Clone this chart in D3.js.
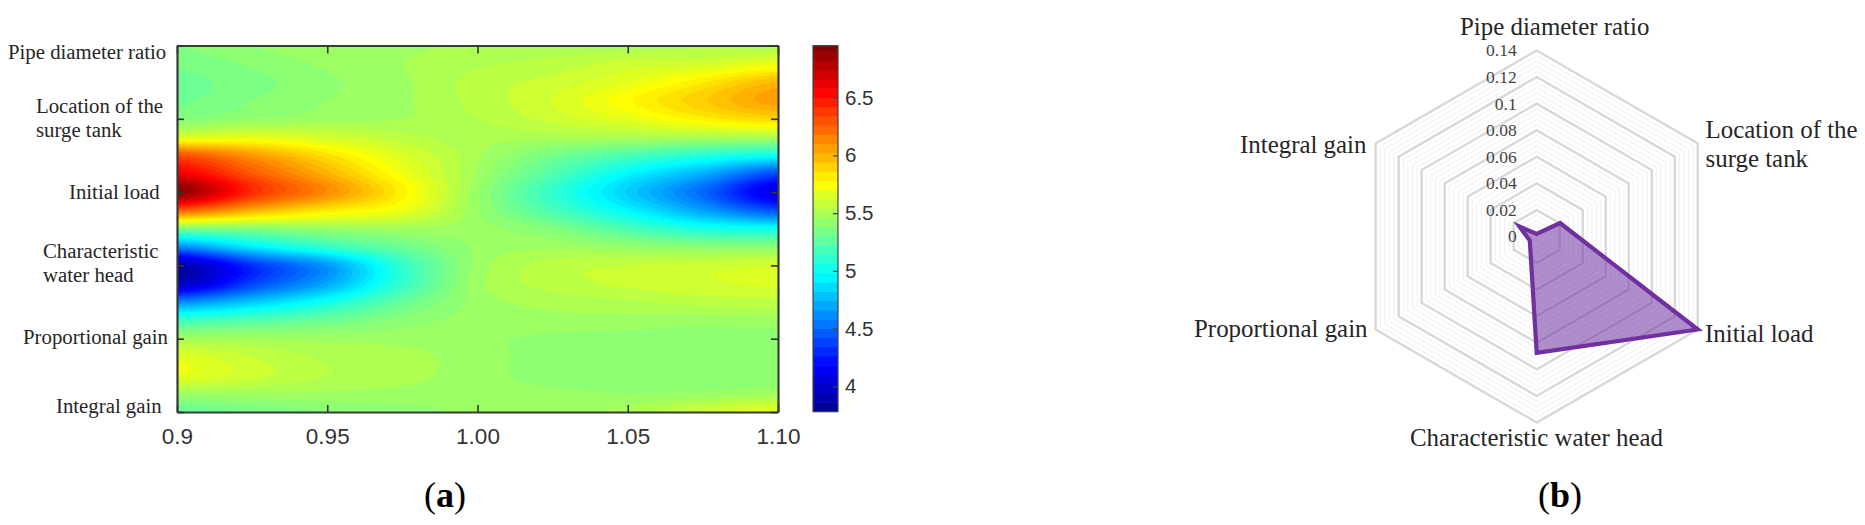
<!DOCTYPE html>
<html><head><meta charset="utf-8">
<script src="https://cdn.jsdelivr.net/npm/d3@7"></script>
<style>
html,body{margin:0;padding:0;background:#fff;overflow:hidden}
svg{display:block}
.serif{font-family:"Liberation Serif",serif;fill:#262626}
.sans{font-family:"Liberation Sans",sans-serif;fill:#333}
</style></head><body>
<svg id="c" width="1865" height="525"></svg>
<script>
// ---------- data: panel (a) ----------
const loadTicks = [0.9, 0.95, 1.0, 1.05, 1.1];
const loadTickLabels = ["0.9", "0.95", "1.00", "1.05", "1.10"];
const zColumns = [0.9, 0.925, 0.95, 0.975, 1.0, 1.025, 1.05, 1.075, 1.1];
const zRows = [5,4.75,4.5,4.25,4,3.75,3.5,3.25,3,2.75,2.5,2.25,2,1.75,1.5,1.25,1,0.75,0.5,0.25,0];
const zValues = [
 [5.38,5.43,5.46,5.47,5.49,5.50,5.50,5.52,5.50],
 [5.34,5.39,5.44,5.48,5.52,5.55,5.60,5.62,5.70],
 [5.31,5.36,5.42,5.47,5.55,5.60,5.68,5.82,5.98],
 [5.32,5.38,5.43,5.47,5.55,5.63,5.77,5.92,6.06],
 [5.38,5.43,5.46,5.48,5.53,5.60,5.68,5.80,5.88],
 [5.65,5.68,5.62,5.55,5.50,5.50,5.50,5.50,5.50],
 [6.30,6.08,5.85,5.65,5.49,5.33,5.20,5.08,5.00],
 [6.60,6.28,6.00,5.72,5.47,5.22,4.95,4.72,4.40],
 [6.90,6.42,6.12,5.80,5.44,5.12,4.82,4.50,4.08],
 [6.25,6.00,5.82,5.70,5.44,5.20,4.95,4.68,4.42],
 [5.35,5.38,5.44,5.47,5.45,5.37,5.20,5.05,5.00],
 [4.60,4.90,5.12,5.30,5.44,5.47,5.43,5.40,5.40],
 [3.88,4.32,4.65,5.12,5.45,5.55,5.58,5.60,5.62],
 [3.95,4.38,4.70,5.13,5.46,5.55,5.59,5.62,5.64],
 [4.60,4.80,5.02,5.28,5.45,5.50,5.52,5.55,5.56],
 [5.15,5.22,5.30,5.40,5.45,5.46,5.46,5.45,5.46],
 [5.47,5.47,5.46,5.46,5.44,5.42,5.41,5.40,5.41],
 [5.66,5.58,5.52,5.50,5.45,5.41,5.40,5.39,5.40],
 [5.68,5.60,5.53,5.50,5.45,5.41,5.40,5.39,5.41],
 [5.46,5.47,5.47,5.46,5.45,5.44,5.43,5.44,5.47],
 [5.28,5.34,5.38,5.41,5.44,5.45,5.50,5.60,5.68]
];
const heatLabels = [
 ["Pipe diameter ratio"],
 ["Location of the","surge tank"],
 ["Initial load"],
 ["Characteristic","water head"],
 ["Proportional gain"],
 ["Integral gain"]
];
const colorTicks = [4, 4.5, 5, 5.5, 6, 6.5];
const colorDomain = [3.78, 6.95];

// ---------- data: panel (b) ----------
const radarAxes = [
 ["Pipe diameter ratio"],
 ["Location of the","surge tank"],
 ["Initial load"],
 ["Characteristic water head"],
 ["Proportional gain"],
 ["Integral gain"]
];
const sensitivity = [0.002, 0.0203, 0.14, 0.0875, 0.006, 0.015];
const radarTicks = [0, 0.02, 0.04, 0.06, 0.08, 0.1, 0.12, 0.14];
const radarTickLabels = ["0","0.02","0.04","0.06","0.08","0.1","0.12","0.14"];

// ---------- layout ----------
const plot = {l:177, r:778, t:45.5, b:412};
const bar = {l:813, r:838, t:45.7, b:411.7};
const heatLabelPos = [[8,59,0],[36,113,24],[69,199,0],[43,258,24],[23,344,0],[56,413,0]];
const radarC = {x:1536.7, y:236.5, R:186};
const radarLabelPos = [[1460,35,0],[1705.5,138,29],[1705,342,0],[1410,446,0],[1194,337,0],[1240,153,0]];

const svg = d3.select("#c");
const x = d3.scaleLinear().domain([0.9,1.1]).range([plot.l,plot.r]);
const y = d3.scaleLinear().domain([0,5]).range([plot.b,plot.t]);

// jet colour map
const span = colorDomain[1]-colorDomain[0];
const jet = d3.scaleLinear()
  .domain([0,1/8,3/8,5/8,7/8,1].map(f=>colorDomain[0]+f*span))
  .range(["#00008f","#0000ff","#00ffff","#ffff00","#ff0000","#800000"])
  .interpolate(d3.interpolateRgb).clamp(true);

// smooth resampling of the read grid for contouring (as a contourf of the read table)
function cr(a,b,c,d,t){return 0.5*((2*b)+(c-a)*t+(2*a-5*b+4*c-d)*t*t+(3*b-a-3*c+d)*t*t*t);}
const nr=zRows.length,nc=zColumns.length,W=481,H=321,field=new Float64Array(W*H);
const at=(r,c)=>zValues[Math.max(0,Math.min(nr-1,r))][Math.max(0,Math.min(nc-1,c))];
for(let j=0;j<H;j++){
  const v=j/(H-1)*(nr-1),r=Math.min(nr-2,Math.floor(v)),tv=v-r;
  for(let i=0;i<W;i++){
    const u=i/(W-1)*(nc-1),c=Math.min(nc-2,Math.floor(u)),tu=u-c;
    const col=[-1,0,1,2].map(dr=>cr(at(r+dr,c-1),at(r+dr,c),at(r+dr,c+1),at(r+dr,c+2),tu));
    field[j*W+i]=cr(col[0],col[1],col[2],col[3],tv);
  }
}
const step=0.05;
const levels=d3.range(colorDomain[0],colorDomain[1],step);
const contours=d3.contours().size([W,H]).smooth(true).thresholds(levels)(field);
const gx=d3.scaleLinear().domain([0.5,W-0.5]).range([plot.l,plot.r]);
const gy=d3.scaleLinear().domain([0.5,H-0.5]).range([plot.t,plot.b]);
const gp=d3.geoPath(d3.geoTransform({point(a,b){this.stream.point(gx(a),gy(b));}}));

svg.append("clipPath").attr("id","pc").append("rect")
  .attr("x",plot.l).attr("y",plot.t).attr("width",plot.r-plot.l).attr("height",plot.b-plot.t);
const hm=svg.append("g").attr("clip-path","url(#pc)");
hm.append("rect").attr("x",plot.l).attr("y",plot.t).attr("width",plot.r-plot.l).attr("height",plot.b-plot.t)
  .attr("fill",jet(colorDomain[0]));
hm.selectAll("path").data(contours).join("path")
  .attr("d",gp).attr("fill",d=>jet(d.value+step/2)).attr("stroke",d=>jet(d.value+step/2)).attr("stroke-width",0.4);

// axes of (a)
function style(g,w){
  g.selectAll(".domain").attr("stroke","#3a3a3a").attr("stroke-width",w);
  g.selectAll(".tick line").attr("stroke","#333").attr("stroke-width",1.6);
  g.selectAll("text").attr("class","sans").attr("fill",null);
}
const xb=svg.append("g").attr("transform",`translate(0,${plot.b})`)
  .call(d3.axisBottom(x).tickValues(loadTicks).tickFormat((d,i)=>loadTickLabels[i]).tickSizeOuter(0).tickSizeInner(-7).tickPadding(16));
style(xb,2.2); xb.selectAll("text").style("font-size","22.5px");
const xt=svg.append("g").attr("transform",`translate(0,${plot.t})`)
  .call(d3.axisTop(x).tickValues(loadTicks).tickFormat("").tickSizeOuter(0).tickSizeInner(-8));
style(xt,2.2);
const yl=svg.append("g").attr("transform",`translate(${plot.l},0)`)
  .call(d3.axisLeft(y).ticks(5).tickFormat("").tickSizeOuter(0).tickSizeInner(-7));
style(yl,2.2);
const yr=svg.append("g").attr("transform",`translate(${plot.r},0)`)
  .call(d3.axisRight(y).ticks(5).tickFormat("").tickSizeOuter(0).tickSizeInner(-7));
style(yr,2.2);

function multi(g,lines,pos,size){
  const t=g.append("text").attr("class","serif").style("font-size",size+"px");
  lines.forEach((s,i)=>t.append("tspan").attr("x",pos[0]).attr("y",pos[1]+i*pos[2]).text(s));
}
const hl=svg.append("g");
heatLabels.forEach((l,i)=>multi(hl,l,heatLabelPos[i],20.8));

// colour bar
const cy=d3.scaleLinear().domain(colorDomain).range([bar.b,bar.t]);
const bands=d3.range(colorDomain[0],colorDomain[1],0.08);
svg.append("g").selectAll("rect").data(bands).join("rect")
  .attr("x",bar.l).attr("width",bar.r-bar.l)
  .attr("y",d=>cy(Math.min(d+0.08,colorDomain[1]))-0.3)
  .attr("height",d=>cy(d)-cy(Math.min(d+0.08,colorDomain[1]))+0.6)
  .attr("fill",d=>jet(d+0.04));
svg.append("rect").attr("x",bar.l).attr("y",bar.t).attr("width",bar.r-bar.l).attr("height",bar.b-bar.t)
  .attr("fill","none").attr("stroke","#444").attr("stroke-width",1.2);
const cb=svg.append("g").attr("transform",`translate(${bar.r},0)`)
  .call(d3.axisRight(cy).tickValues(colorTicks).tickFormat(d3.format("")).tickSizeOuter(0).tickSizeInner(-5).tickPadding(7));
cb.select(".domain").remove();
cb.selectAll(".tick line").attr("stroke","#444").attr("stroke-width",1.2);
cb.selectAll("text").attr("class","sans").attr("fill",null).style("font-size","20.5px");

// panel letters
function letter(cx,ch){
  const t=svg.append("text").attr("class","serif").attr("x",cx).attr("y",507)
    .attr("text-anchor","middle").style("font-size","36px").style("fill","#000");
  t.append("tspan").text("(");
  t.append("tspan").style("font-weight","bold").text(ch);
  t.append("tspan").text(")");
}
letter(445,"a"); letter(1560,"b");

// ---------- radar (b) ----------
const rr=d3.scaleLinear().domain([0,0.14]).range([0,radarC.R]);
const ang=d3.scaleLinear().domain([0,6]).range([0,2*Math.PI]);
const ringPath=v=>d3.lineRadial().angle((d,i)=>ang(i)).radius(()=>rr(v)).curve(d3.curveLinearClosed)(radarAxes);
const rg=svg.append("g").attr("transform",`translate(${radarC.x},${radarC.y})`);
const minor=d3.range(0,35).map(i=>i*0.004).filter((d,i)=>i%5!==0&&i>0);
rg.selectAll("path.minor").data(minor).join("path").attr("class","minor")
  .attr("d",ringPath).attr("fill","none").attr("stroke","#f0f0f0").attr("stroke-width",1);
rg.selectAll("path.major").data(radarTicks.slice(1)).join("path").attr("class","major")
  .attr("d",ringPath).attr("fill","none").attr("stroke","#d8d8d8").attr("stroke-width",2.4);
rg.append("path")
  .attr("d",d3.lineRadial().angle((d,i)=>ang(i)).radius(d=>rr(d)).curve(d3.curveLinearClosed)(sensitivity))
  .attr("fill","#7030a0").attr("fill-opacity",0.55)
  .attr("stroke","#7030a0").attr("stroke-width",4.2).attr("stroke-linejoin","miter");
rg.selectAll("text").data(radarTicks).join("text").attr("class","serif")
  .attr("x",-20).attr("y",d=>-rr(d)).attr("dy","0.34em").attr("text-anchor","end")
  .style("font-size","17.5px").style("fill","#444")
  .text((d,i)=>radarTickLabels[i]);
const rl=svg.append("g");
radarAxes.forEach((l,i)=>multi(rl,l,radarLabelPos[i],24.9));
</script>
</body></html>
